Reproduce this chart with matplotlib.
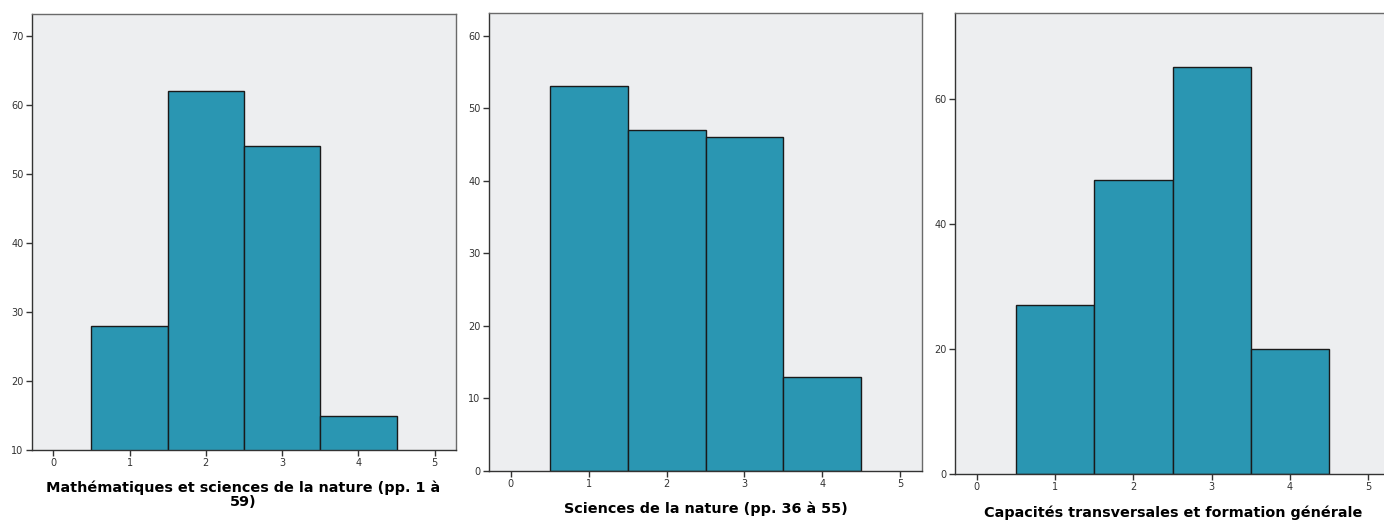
import matplotlib.pyplot as plt

# Score categories and counts per section
scores = [1, 2, 3, 4]
math_sci = [28, 62, 54, 15]
sci_nature = [53, 47, 46, 13]
transversal = [27, 47, 65, 20]

titles = ["Mathématiques et sciences de la nature (pp. 1 à\n59)",
          "Sciences de la nature (pp. 36 à 55)",
          "Capacités transversales et formation générale"]

W, H = 1384, 527
fig = plt.figure(figsize=(W / 100, H / 100), dpi=100)

bar_color = '#2A96B2'
bg = '#EDEEF0'

# axes boxes in pixels: left, top, right, bottom
boxes = [(32, 14, 456, 450), (489, 13, 922, 471), (955, 13, 1390, 474)]
ylims = [(10, 73.2), (0, 63.1), (0, 73.7)]
yticks = [range(10, 71, 10), range(0, 61, 10), range(0, 61, 20)]
data = [math_sci, sci_nature, transversal]
label_y = [494.5, 509, 513]
label_x = [243, 706, 1173]

for box, ylim, yt, vals, title, ly, lx in zip(boxes, ylims, yticks, data, titles, label_y, label_x):
    l, t, r, b = box
    ax = fig.add_axes([l / W, 1 - b / H, (r - l) / W, (b - t) / H])
    ax.set_facecolor(bg)
    ax.bar(scores, vals, width=1.0, color=bar_color, edgecolor='#1a1a1a', linewidth=1.0)
    ax.set_xlim(-0.28, 5.28)
    ax.set_ylim(*ylim)
    ax.set_xticks(range(0, 6))
    ax.set_yticks(list(yt))
    ax.tick_params(axis='both', direction='out', length=4, width=1, color='#333333',
                   labelsize=7, labelcolor='#333333', pad=2)
    for s in ax.spines.values():
        s.set_color('#6a6a6a')
        s.set_linewidth(1)
    ax.spines['left'].set_color('#333333')
    ax.spines['bottom'].set_color('#333333')
    fig.text(lx / W, 1 - ly / H, title,
             ha='center', va='center', fontsize=10.4, fontweight='bold',
             color='#000000', linespacing=1.0)

fig.savefig('out.png', dpi=100)
